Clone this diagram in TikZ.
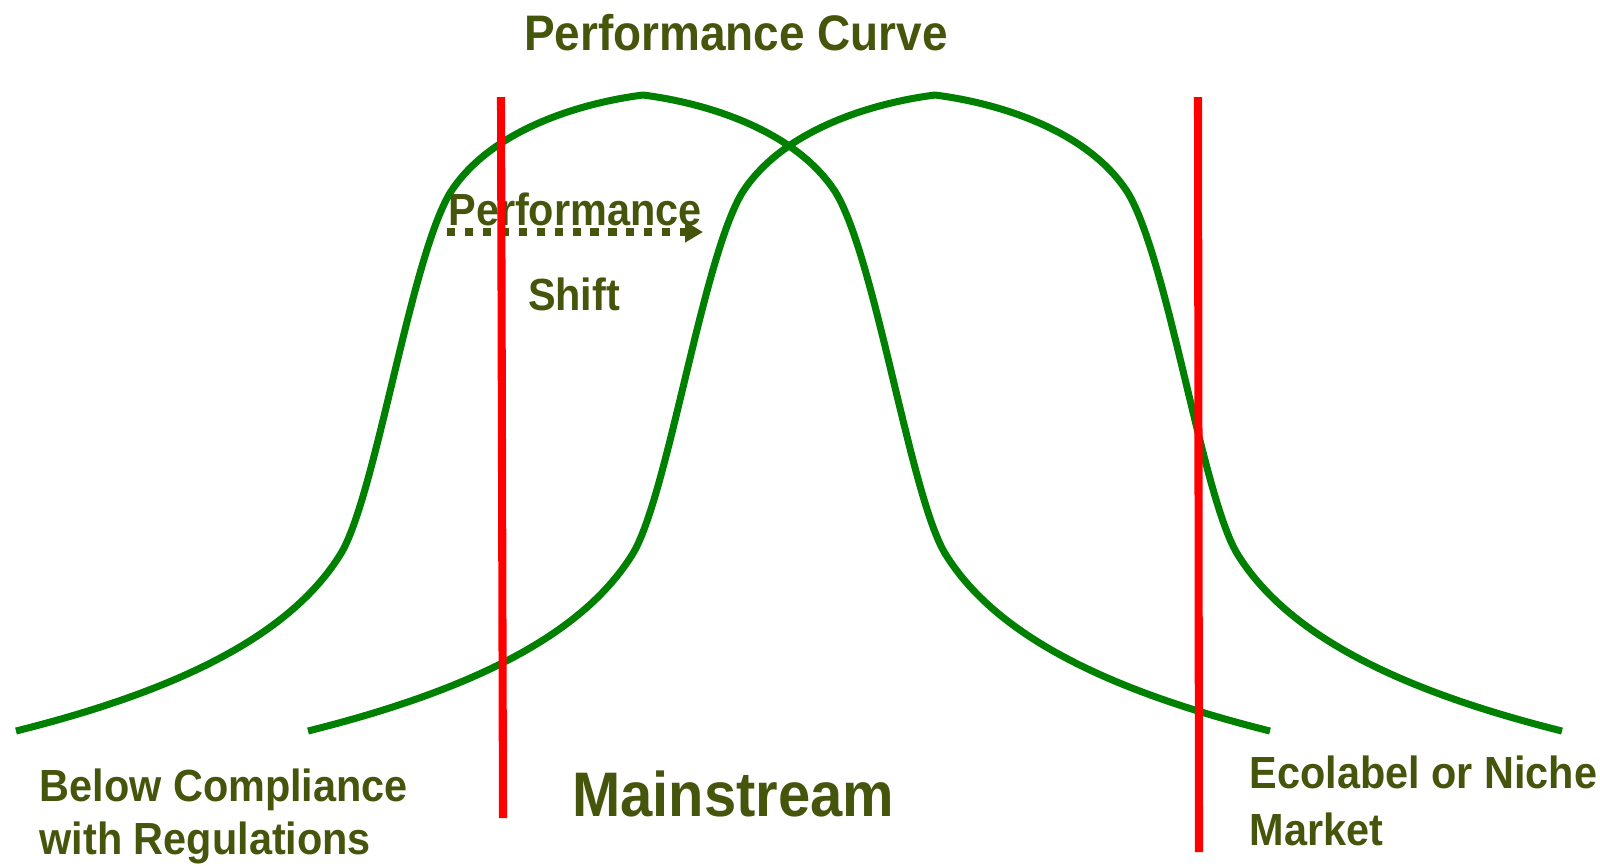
\documentclass[tikz,border=0pt]{standalone}
\usepackage{fontspec}
\setmainfont{Liberation Sans}[FakeStretch=0.92]
\usetikzlibrary{arrows.meta,positioning}
\definecolor{curvegreen}{RGB}{0,128,0}
\definecolor{labelolive}{RGB}{69,85,12}

\begin{document}
\begin{tikzpicture}[
    x=0.01cm,y=-0.01cm,
    curve/.style={draw=curvegreen,line width=2pt,line join=round},
    limit/.style={draw=red,line width=2.3pt},
    lbl/.style={inner sep=0pt,text=labelolive,align=left,
      font=\bfseries\fontsize{12.8}{15.1}\selectfont},
    shiftarrow/.style={-{Triangle[length=0.18cm,width=0.2cm]},draw=labelolive,
      line width=2.3pt,dash pattern=on 2.3pt off 2.8pt}
  ]
    \fill[white] (0,0) rectangle (1600,866);
    \useasboundingbox (0,0) rectangle (1600,866);
    % the two bell curves, the second one shifted to the right
    \foreach \dx in {0,292}{
      \draw[curve,shift={(\dx,0)}] (16,731)
        .. controls (180,690) and (290,635) .. (340,555)
        .. controls (375,500) and (410,260) .. (450,193)
        .. controls (490,130) and (580,103) .. (643,95)
        .. controls (706,103) and (796,130) .. (836,193)
        .. controls (876,260) and (911,500) .. (946,555)
        .. controls (996,635) and (1106,690) .. (1270,731);
    }
    \node[lbl,anchor=base,font=\bfseries\fontsize{14.2}{17}\selectfont] (title) at (736,50) {Performance Curve};
    \node[lbl,anchor=base] (shifttop) at (575,225) {Performance};
    \node[lbl,anchor=base] (shiftbot) at (574,310) {Shift};
    \coordinate (shiftstart) at (447,232);
    \coordinate (shiftend) at (703,232);
    \draw[shiftarrow] (shiftstart) -- (shiftend);
    \node[lbl,anchor=north west] (below) at (39,768) {Below Compliance\\with Regulations};
    \node[lbl,anchor=base,font=\bfseries\fontsize{17.9}{21}\selectfont] (mainstream) at (733,816) {Mainstream};
    \node[lbl,anchor=north west,font=\bfseries\fontsize{12.8}{16.2}\selectfont] (niche) at (1249,755) {Ecolabel or Niche\\Market};
    % compliance and ecolabel limits
    \coordinate (lowtop) at (501,97);
    \coordinate (lowbot) at (503,818);
    \coordinate (hightop) at (1198,97);
    \coordinate (highbot) at (1199,852);
    \draw[limit] (lowtop) -- (lowbot);
    \draw[limit] (hightop) -- (highbot);
  \end{tikzpicture}
\end{document}
